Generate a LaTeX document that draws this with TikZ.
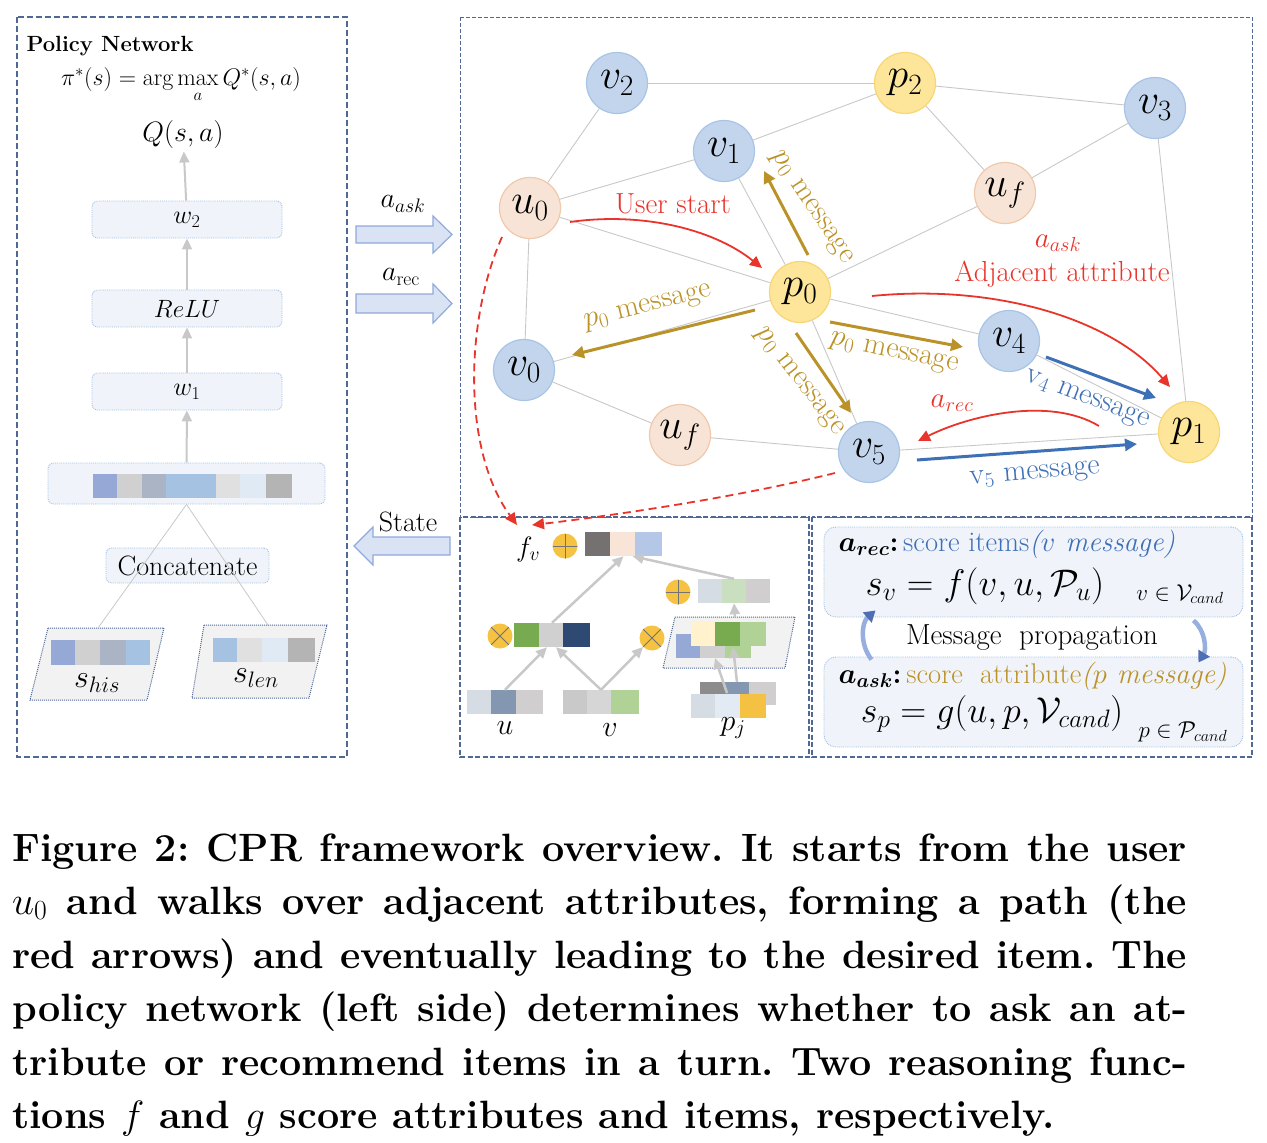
\RequirePackage{fix-cm}
\documentclass[tikz,border=0pt]{standalone}
\usepackage{amsmath,amssymb}
\usepackage{fontspec}
\usepackage{tikz}
\usetikzlibrary{positioning,arrows.meta,calc}
\usepackage{xcolor}
\definecolor{cprred}{RGB}{232,52,42}
\definecolor{cprgold}{RGB}{186,146,40}
\definecolor{cprblue}{RGB}{62,112,182}
\definecolor{panelline}{RGB}{80,104,150}
\definecolor{itemfill}{RGB}{194,213,236}
\definecolor{itemline}{RGB}{168,196,230}
\definecolor{attrfill}{RGB}{253,229,154}
\definecolor{attrline}{RGB}{248,214,118}
\definecolor{userfill}{RGB}{248,228,214}
\definecolor{userline}{RGB}{240,200,172}
\definecolor{boxfill}{RGB}{240,244,250}
\definecolor{boxline}{RGB}{160,190,228}
\definecolor{edgegray}{RGB}{200,200,200}
\definecolor{arrfill}{RGB}{218,227,243}
\definecolor{arrline}{RGB}{143,170,220}
\definecolor{opyellow}{RGB}{245,194,66}
\definecolor{proplight}{RGB}{150,175,222}
\definecolor{propdark}{RGB}{80,110,180}
% vector cell colours
\definecolor{cA}{RGB}{150,168,213}
\definecolor{cB}{RGB}{208,208,208}
\definecolor{cC}{RGB}{170,180,196}
\definecolor{cD}{RGB}{166,194,226}
\definecolor{cE}{RGB}{224,224,224}
\definecolor{cF}{RGB}{224,234,244}
\definecolor{cG}{RGB}{180,180,180}
\definecolor{cH}{RGB}{118,113,113}
\definecolor{cI}{RGB}{248,229,216}
\definecolor{cJ}{RGB}{180,199,231}
\definecolor{cK}{RGB}{120,170,80}
\definecolor{cL}{RGB}{46,74,114}
\definecolor{cM}{RGB}{214,220,228}
\definecolor{cN}{RGB}{201,223,191}
\definecolor{cO}{RGB}{208,206,206}
\definecolor{cP}{RGB}{255,242,204}
\definecolor{cQ}{RGB}{176,210,150}
\definecolor{cR}{RGB}{132,151,176}
\definecolor{cS}{RGB}{201,201,201}
\definecolor{cT}{RGB}{214,214,214}
\definecolor{cU}{RGB}{140,140,140}
\definecolor{cV}{RGB}{226,234,244}
\definecolor{cW}{RGB}{244,193,66}

\begin{document}
\frenchspacing
\begin{tikzpicture}[x=1pt,y=-1pt,
  fsz/.style={font=\fontsize{#1}{#1}\selectfont},
  panel/.style={draw=panelline,dashed,line width=1.1pt},
  layer/.style={rectangle,rounded corners=5pt,fill=boxfill,draw=boxline,densely dotted,
      line width=0.9pt,minimum width=190pt,minimum height=37pt,fsz=26},
  flowarr/.style={draw=edgegray,line width=2pt,-{Triangle[width=10pt,length=11pt]}},
  thinline/.style={draw=edgegray,line width=0.8pt},
  para/.style={fill=black!5,draw=panelline,densely dotted,line width=1pt},
  blockarr/.style={fill=arrfill,draw=arrline,line width=1.2pt},
  item/.style={circle,minimum size=61pt,inner sep=0pt,fill=itemfill,draw=itemline,
      line width=1.2pt,fsz=42},
  attr/.style={item,fill=attrfill,draw=attrline},
  user/.style={item,fill=userfill,draw=userline},
  edge/.style={draw=edgegray,line width=0.9pt},
  goldmsg/.style={draw=cprgold,line width=3pt,-{Triangle[width=12pt,length=12pt]}},
  bluemsg/.style={draw=cprblue,line width=3pt,-{Triangle[width=12pt,length=12pt]}},
  redpath/.style={draw=cprred,line width=1.8pt,-{Triangle[width=11pt,length=12pt]}},
  goldlbl/.style={text=cprgold,fsz=30,inner sep=1pt},
  bluelbl/.style={text=cprblue,fsz=30,inner sep=1pt},
  redlbl/.style={text=cprred,fsz=29,inner sep=1pt},
  vecnode/.style={rectangle,inner sep=0pt,minimum height=24pt},
  opcirc/.style={circle,fill=opyellow,minimum size=25pt,inner sep=0pt},
  oplus/.style={opcirc,path picture={\draw[black!55,line width=0.9pt]
      (path picture bounding box.north) -- (path picture bounding box.south)
      (path picture bounding box.west) -- (path picture bounding box.east);}},
  otimes/.style={opcirc,path picture={\draw[black!55,line width=0.9pt]
      (path picture bounding box.north west) -- (path picture bounding box.south east)
      (path picture bounding box.north east) -- (path picture bounding box.south west);}},
  cellarr/.style={draw=edgegray,line width=2.5pt,-{Triangle[width=10pt,length=11pt]}},
  scorebox/.style={rectangle,rounded corners=12pt,fill=boxfill,draw=boxline,densely dotted,
      line width=0.9pt,minimum width=419pt,minimum height=90pt},
  proparr/.style={draw=proplight,line width=4.5pt,-{Triangle[width=13pt,length=11pt,color=propdark]}},
  captext/.style={font=\fontsize{39.5}{44}\selectfont\bfseries,inner sep=0pt,anchor=base west}]
\useasboundingbox (0,0) rectangle (1267,1143);

% panels
\draw[panel,dash pattern=on 6pt off 3pt] (17,17) rectangle (347,757);
\draw[panel,dash pattern=on 4pt off 2pt,line width=0.9pt] (460,17) rectangle (1252,517);
\draw[panel,dash pattern=on 5pt off 2.5pt] (460,517) rectangle (809,757);
\draw[panel,dash pattern=on 5pt off 2.5pt] (812,517) rectangle (1252,757);

% policy network
\node[anchor=west,font={\fontsize{22}{22}\selectfont\bfseries}] (pntitle) at (23,46) {Policy Network};
\node[fsz=24] (pistar) at (181,85) {$\pi^*(s)=\arg\max\limits_a Q^*(s,a)$};
\node[fsz=28] (qsa) at (183,134) {$Q(s,a)$};
\node[layer] (w2) at (187,219.5) {$w_2$};
\node[layer,fsz=25] (relu) at (187,308.5) {$ReLU$};
\node[layer] (w1) at (187,391.5) {$w_1$};
\node[layer,minimum width=277pt,minimum height=41pt] (state) at (186.5,483.5) {};
\node[layer,minimum width=163pt,minimum height=35pt,fsz=28] (concat) at (187.5,565.5) {Concatenate};
\foreach \x/\w/\c in {93/24/cA,117/25/cB,142/24/cC,166/50/cD,216/24/cE,240/26/cF,266/26/cG}
  \fill[\c] (\x,474) rectangle ++(\w,24);
\draw[flowarr] (w2) -- (qsa);
\draw[flowarr] (relu) -- (w2);
\draw[flowarr] (w1) -- (relu);
\draw[flowarr] (state) -- (w1);

% state parts
\draw[para] (48,628) -- (164,628) -- (147,700) -- (30,700) -- cycle;
\draw[para] (204,625) -- (327,625) -- (309,698) -- (192,698) -- cycle;
\coordinate (shistop) at (98,628);
\coordinate (slentop) at (268,625);
\foreach \x/\w/\c in {51/24/cA,75/25/cB,100/26/cC,126/24/cD}
  \fill[\c] (\x,640) rectangle ++(\w,25);
\foreach \x/\w/\c in {213/24/cD,237/25/cE,262/26/cF,288/27/cG}
  \fill[\c] (\x,638) rectangle ++(\w,24);
\node[fsz=32] (shis) at (97,683) {$s_{his}$};
\node[fsz=32] (slen) at (256,678) {$s_{len}$};
\draw[thinline] (state.south) -- (shistop);
\draw[thinline] (state.south) -- (slentop);

% actions and state
\draw[blockarr] (356,226) -- ++(77,0) -- ++(0,-10) -- ++(19,18.5) -- ++(-19,18.5) -- ++(0,-10) -- ++(-77,0) -- cycle;
\draw[blockarr] (356,294) -- ++(77,0) -- ++(0,-10) -- ++(19,19.5) -- ++(-19,19.5) -- ++(0,-10) -- ++(-77,0) -- cycle;
\draw[blockarr] (450,537) -- ++(-77,0) -- ++(0,-10) -- ++(-19,19) -- ++(19,19) -- ++(0,-10) -- ++(77,0) -- cycle;
\node[fsz=28] (askl) at (403,204) {$a_{ask}$};
\node[fsz=28] (recl) at (401,277) {$a_{\mathrm{rec}}$};
\node[fsz=28] (statel) at (408,522) {State};

% graph
\node[item] (v2) at (617,83) {$v_2$};
\node[item] (v1) at (724,151) {$v_1$};
\node[user] (u0) at (530,208) {$u_0$};
\node[attr] (p2) at (905,83) {$p_2$};
\node[item] (v3) at (1155,108) {$v_3$};
\node[user] (uf1) at (1005,193) {$u_f$};
\node[attr] (p0) at (800,292) {$p_0$};
\node[item] (v0) at (524,370) {$v_0$};
\node[user] (uf2) at (680,435) {$u_f$};
\node[item] (v5) at (869,452) {$v_5$};
\node[item] (v4) at (1009,341) {$v_4$};
\node[attr] (p1) at (1189,432) {$p_1$};
\foreach \a/\b in {u0/v2,u0/v1,u0/p0,u0/v0,v2/p2,v1/p2,v1/p0,p2/v3,p2/uf1,uf1/v3,
    uf1/p0,v3/p1,p0/v0,p0/v4,v4/p1,p0/v5,v0/uf2,uf2/v5,v5/p1}
  \draw[edge] (\a) -- (\b);

% messages
\draw[goldmsg] ($(p0)+(8,-37)$) -- ($(v1)+(40,20)$);
\draw[goldmsg] ($(p0)+(-45,18)$) -- ($(v0)+(48,-15)$);
\draw[goldmsg] ($(p0)+(30,30)$) -- ($(v4)+(-46,6)$);
\draw[goldmsg] ($(p0)+(-4,41)$) -- ($(v5)+(-18,-39)$);
\draw[bluemsg] ($(v4)+(37,16)$) -- ($(p1)+(-33,-34)$);
\draw[bluemsg] ($(v5)+(48,8)$) -- ($(p1)+(-52,12)$);
\node[goldlbl,rotate=-56] (m01) at (811,208) {$p_0$ message};
\node[goldlbl,rotate=14] (m00) at (648,308) {$p_0$ message};
\node[goldlbl,rotate=-12] (m04) at (894,354) {$p_0$ message};
\node[goldlbl,rotate=-52] (m05) at (799,382) {$p_0$ message};
\node[bluelbl,rotate=-21] (m41) at (1087,400) {v$_4$ message};
\node[bluelbl,rotate=5] (m51) at (1035,475) {v$_5$ message};

% path
\draw[redpath] ($(u0)+(40,14)$) .. controls +(70,-10) and +(-50,-40) .. ($(p0)+(-38,-24)$);
\draw[redpath] ($(p0)+(72,4)$) .. controls +(120,-12) and +(-60,-70) .. ($(p1)+(-19,-45)$);
\draw[redpath] ($(p1)+(-90,-6)$) .. controls +(-50,-30) and +(50,-25) .. ($(v5)+(49,-11)$);
\node[redlbl] (ustart) at (673,204) {User start};
\node[redlbl] (askr) at (1058,243) {$a_{ask}$};
\node[redlbl] (adj) at (1062,274) {Adjacent attribute};
\node[redlbl] (recr) at (952,403) {$a_{rec}$};

% scoring f
\node[fsz=28] (fv) at (528,549) {$f_v$};
\coordinate (fvin) at ($(fv)+(-11,-24)$);
\coordinate (fvin2) at ($(fv)+(4,-24)$);
\draw[redpath,dash pattern=on 8pt off 5pt] ($(u0)+(-28,29)$) .. controls +(-37,83) and +(-55,-75) .. (fvin);
\draw[redpath,dash pattern=on 8pt off 5pt] ($(v5)+(-34,21)$) .. controls +(-100,25) and +(70,-8) .. (fvin2);

\node[oplus] (sum1) at (565,546) {};
\node[otimes] (mul1) at (500,636) {};
\node[otimes] (mul2) at (652,638) {};
\node[oplus] (sum2) at (678,592) {};
\node[vecnode,minimum width=77pt] (topvec) at (623.5,544) {};
\node[vecnode,minimum width=76pt] (mulvec) at (552,635) {};
\node[vecnode,minimum width=72pt] (sumvec) at (734,591) {};
\node[vecnode,minimum width=76pt] (uvec) at (505,702) {};
\node[vecnode,minimum width=76pt] (vvec) at (601,702) {};
\node[vecnode,minimum width=85pt,minimum height=36pt] (pjvec) at (733,700) {};
\foreach \x/\w/\c in {585/25/cH,610/25/cI,635/27/cJ} \fill[\c] (\x,532) rectangle ++(\w,24);
\foreach \x/\w/\c in {514/25/cK,539/24/cB,563/27/cL} \fill[\c] (\x,623) rectangle ++(\w,24);
\foreach \x/\w/\c in {698/24/cM,722/24/cN,746/24/cO} \fill[\c] (\x,579) rectangle ++(\w,24);
\foreach \x/\w/\c in {467/24/cM,491/25/cR,516/27/cO} \fill[\c] (\x,690) rectangle ++(\w,24);
\foreach \x/\w/\c in {563/24/cS,587/24/cT,611/28/cQ} \fill[\c] (\x,690) rectangle ++(\w,24);
\foreach \x/\w/\c in {700/25/cU,725/24/cR,749/27/cO} \fill[\c] (\x,682) rectangle ++(\w,23);
\foreach \x/\w/\c in {691/24/cM,715/25/cV,740/26/cW} \fill[\c] (\x,694) rectangle ++(\w,24);
\draw[para] (675,617) -- (795,617) -- (785,668) -- (663,668) -- cycle;
\coordinate (paral) at (729,642);
\foreach \x/\w/\c in {676/24/cA,700/25/cB,725/26/cQ} \fill[\c] (\x,634) rectangle ++(\w,24);
\foreach \x/\w/\c in {691/24/cP,715/25/cK,740/26/cQ} \fill[\c] (\x,622) rectangle ++(\w,24);
\node[fsz=30] (ulbl) at (505,728) {$u$};
\node[fsz=30] (vlbl) at (610,730) {$v$};
\node[fsz=30] (pjlbl) at (733,728) {$p_j$};
\draw[cellarr] (uvec.north) -- ($(mulvec.south)+(-5,0)$);
\draw[cellarr] (vvec.north) -- ($(mulvec.south)+(4,0)$);
\draw[cellarr] (vvec.north) -- (mul2.south west);
\draw[cellarr] (mulvec.north) -- (topvec.south);
\draw[cellarr] (sumvec.north) -- ($(topvec.south)+(9,0)$);
\draw[cellarr] ($(paral)+(6,-25)$) -- (sumvec.south);
\draw[cellarr] ($(pjvec)+(-6,-7)$) -- ($(paral)+(-14,16)$);
\draw[cellarr] ($(pjvec)+(4,-18)$) -- ($(paral)+(4,5)$);

% scoring g
\node[scorebox] (recbox) at (1033.5,572) {};
\node[scorebox] (askbox) at (1033.5,702) {};
\node[anchor=west,fsz=28.5] (rectxt) at (835,544)
  {$\boldsymbol{a_{rec}}$\textbf{:}\,\textcolor{cprblue}{score items\textit{($v$ message)}}};
\node[fsz=37] (svf) at (985,586) {$s_v=f(v,u,\mathcal{P}_u)$};
\node[fsz=23] (svset) at (1180,594) {$v\in\mathcal{V}_{cand}$};
\node[fsz=29] (mprop) at (1032,638) {Message~~propagation};
\node[anchor=west,fsz=28.5] (asktxt) at (835,676)
  {$\boldsymbol{a_{ask}}$\textbf{:}\,\textcolor{cprgold}{score~~attribute\textit{($p$ message)}}};
\node[fsz=36] (spg) at (992,714) {$s_p=g(u,p,\mathcal{V}_{cand})$};
\node[fsz=23] (spset) at (1183,732) {$p\in\mathcal{P}_{cand}$};
\draw[proparr] ($(askbox.north west)+(48,3)$) .. controls +(-12,-15) and +(-14,12) .. ($(recbox.south west)+(52,-7)$);
\draw[proparr] ($(recbox.south east)+(-50,3)$) .. controls +(12,10) and +(8,-13) .. ($(askbox.north east)+(-45,6)$);

% caption
\node[captext] (cap1) at (12,861) {\makebox[1175pt][s]{Figure 2: CPR framework overview. It starts from the user}};
\node[captext] (cap2) at (12,914) {\makebox[1175pt][s]{$u_0$ and walks over adjacent attributes, forming a path (the}};
\node[captext] (cap3) at (12,968) {\makebox[1175pt][s]{red arrows) and eventually leading to the desired item. The}};
\node[captext] (cap4) at (12,1021) {\makebox[1175pt][s]{policy network (left side) determines whether to ask an at-}};
\node[captext] (cap5) at (12,1075) {\makebox[1175pt][s]{tribute or recommend items in a turn. Two reasoning func-}};
\node[captext] (cap6) at (12,1128) {tions $f$ and $g$ score attributes and items, respectively.};
\end{tikzpicture}
\end{document}
